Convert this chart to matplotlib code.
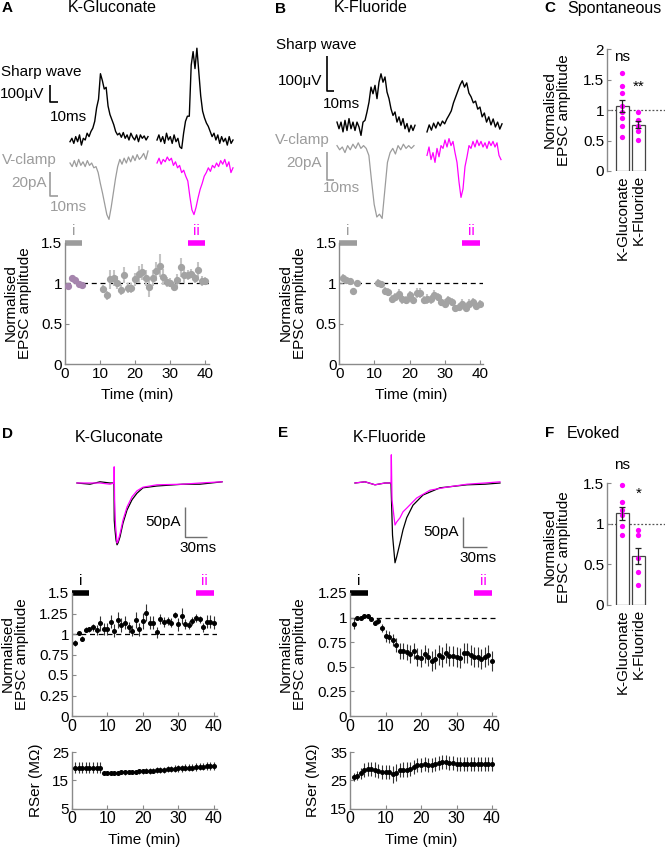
import numpy as np
import matplotlib
matplotlib.use('Agg')
import matplotlib.pyplot as plt
from matplotlib.ticker import FuncFormatter

plt.rcParams['font.family'] = ['Liberation Sans', 'DejaVu Sans']
plt.rcParams['font.size'] = 11

# ======================= DATA =======================
# --- Spontaneous EPSC time course (panels A, B) ---
t_base = [1, 2, 3, 4, 5]
t_post = list(range(11, 41))
A_base = [0.97, 1.06, 1.04, 0.99, 0.975]
A_base_err = [0.03, 0.02, 0.02, 0.02, 0.02]
A_post = [0.93, 0.85, 1.05, 1.07, 1.01, 0.92, 1.10, 0.94, 0.94, 1.05,
          1.11, 1.14, 1.07, 0.95, 1.07, 1.15, 1.22, 1.08, 1.02, 1.01,
          0.96, 1.04, 1.20, 1.10, 1.10, 1.12, 1.06, 1.17, 1.03, 1.03]
A_post_err = [0.05, 0.06, 0.12, 0.10, 0.08, 0.06, 0.10, 0.06, 0.06, 0.08,
              0.10, 0.10, 0.10, 0.12, 0.10, 0.12, 0.14, 0.10, 0.06, 0.06,
              0.06, 0.08, 0.12, 0.10, 0.06, 0.06, 0.06, 0.10, 0.06, 0.05]
B_base = [1.07, 1.04, 1.03, 0.90, 1.00]
B_base_err = [0.04, 0.02, 0.02, 0.02, 0.02]
B_post = [1.00, 0.99, 0.90, 0.89, 0.81, 0.83, 0.87, 0.80, 0.79, 0.85,
          0.79, 0.88, 0.88, 0.79, 0.81, 0.80, 0.86, 0.83, 0.77, 0.75,
          0.79, 0.77, 0.69, 0.71, 0.75, 0.69, 0.75, 0.77, 0.72, 0.74]
B_post_err = [0.05, 0.04, 0.05, 0.05, 0.05, 0.05, 0.06, 0.05, 0.05, 0.06,
              0.05, 0.06, 0.06, 0.05, 0.06, 0.05, 0.06, 0.05, 0.05, 0.06,
              0.05, 0.05, 0.04, 0.05, 0.05, 0.05, 0.05, 0.05, 0.05, 0.05]
epoch_i = [0, 5]
epoch_ii = [35, 40]

# --- Evoked EPSC time course (panels D, E) ---
t_evk = list(range(1, 41))
D_amp = [0.89, 1.01, 0.94, 1.05, 1.06, 1.08, 1.05, 1.13, 1.06, 1.06,
         1.15, 1.04, 1.17, 1.11, 1.14, 1.08, 1.04, 1.17, 1.06, 1.16,
         1.26, 1.14, 1.14, 1.02, 1.18, 1.15, 1.16, 1.14, 1.23, 1.12,
         1.22, 1.12, 1.11, 1.16, 1.20, 1.18, 1.08, 1.15, 1.15, 1.14]
D_amp_err = [0.04, 0.02, 0.03, 0.03, 0.03, 0.04, 0.06, 0.09, 0.07, 0.07,
             0.08, 0.08, 0.10, 0.08, 0.08, 0.07, 0.07, 0.10, 0.08, 0.10,
             0.10, 0.08, 0.08, 0.07, 0.06, 0.06, 0.05, 0.05, 0.04, 0.08,
             0.10, 0.06, 0.05, 0.05, 0.05, 0.04, 0.06, 0.08, 0.08, 0.08]
D_rser = [19.5, 19.5, 19.4, 19.5, 19.5, 19.4, 19.5, 19.5,
          17.6, 17.6, 17.6, 17.7, 17.7, 17.8, 17.8, 17.9, 18.0, 18.0,
          18.1, 18.2, 18.3, 18.3, 18.4, 18.6, 18.6, 18.7, 18.9, 18.9,
          19.1, 19.2, 19.2, 19.4, 19.5, 19.5, 19.7, 19.8, 19.8, 20.0,
          20.1, 20.1]
D_rser_err = [2.0, 2.0, 2.0, 2.0, 2.0, 2.0, 2.0, 2.0,
              0.6, 0.6, 0.6, 0.7, 0.7, 0.7, 0.8, 0.8, 0.8, 0.8,
              0.9, 0.9, 0.9, 1.0, 1.0, 1.0, 1.0, 1.1, 1.1, 1.1,
              1.2, 1.2, 1.2, 1.2, 1.3, 1.3, 1.3, 1.3, 1.3, 1.4,
              1.4, 1.4]
E_amp = [0.94, 1.00, 1.00, 1.02, 1.02, 0.99, 0.95, 0.97, 0.89, 0.81,
         0.80, 0.77, 0.72, 0.66, 0.66, 0.65, 0.63, 0.66, 0.60, 0.59,
         0.63, 0.60, 0.56, 0.58, 0.62, 0.60, 0.64, 0.61, 0.61, 0.60,
         0.59, 0.64, 0.64, 0.62, 0.60, 0.60, 0.58, 0.60, 0.62, 0.56]
E_amp_err = [0.06, 0.02, 0.02, 0.02, 0.02, 0.02, 0.03, 0.03, 0.04, 0.06,
             0.06, 0.06, 0.07, 0.08, 0.08, 0.08, 0.09, 0.08, 0.09, 0.09,
             0.09, 0.09, 0.10, 0.10, 0.10, 0.10, 0.10, 0.10, 0.10, 0.10,
             0.10, 0.10, 0.10, 0.10, 0.10, 0.10, 0.10, 0.10, 0.10, 0.10]
E_rser = [26.2, 26.6, 27.4, 28.5, 29.0, 29.0, 28.8, 28.3, 28.0, 28.0,
          28.0, 27.2, 27.6, 28.5, 28.8, 28.8, 29.0, 29.7, 30.3, 30.3,
          30.6, 30.3, 30.3, 30.6, 31.1, 31.5, 31.5, 31.1, 31.1, 30.9,
          30.9, 30.8, 30.9, 30.8, 30.8, 30.9, 30.8, 30.8, 30.9, 30.8]
E_rser_err = [1.5, 1.5, 2.0, 2.5, 2.5, 2.5, 2.5, 2.5, 2.5, 2.5,
              2.5, 3.0, 3.0, 2.5, 2.5, 2.5, 2.5, 2.5, 2.5, 2.5,
              2.5, 2.5, 2.5, 2.5, 2.5, 2.5, 2.5, 2.5, 2.5, 2.5,
              2.5, 2.5, 2.5, 2.5, 2.5, 2.5, 2.5, 2.5, 2.5, 2.5]

# --- Summary bars (panels C, F) ---
groups = ['K-Gluconate', 'K-Fluoride']
C_mean = [1.07, 0.76]
C_sem = [0.10, 0.06]
C_pts = [[1.60, 1.40, 1.28, 1.07, 0.96, 0.87, 0.74, 0.56],
         [0.96, 0.83, 0.74, 0.65, 0.51]]
C_sig = ['ns', '**']
F_mean = [1.13, 0.60]
F_sem = [0.08, 0.10]
F_pts = [[1.48, 1.27, 1.17, 1.11, 0.97, 0.86],
         [0.92, 0.86, 0.58, 0.41, 0.25]]
F_sig = ['ns', '*']

# --- Example traces ---
# Sharp wave field potentials (uV), uniformly sampled
A_sw_i = [-10, 10, -20, 20, -10, 30, -30, 10, 0, 40, 20, 50, 70, 110, 190, 240,
          390, 350, 300, 310, 200, 150, 120, 90, 50, 30, 40, 16, 44, 10, 30, 0,
          40, 16, 0, 30, -10, 30, 10, 24, 0, 20]
A_sw_ii = [0, 30, -10, 20, -20, 40, 0, 20, -20, 30, -10, 10, -40, -50, 40, 110,
           140, 140, 440, 520, 420, 540, 400, 260, 170, 130, 100, 80, 50, 20, 40,
           0, 30, -20, 20, -10, 10, -30, 20, -20, 0]
# V-clamp currents (pA)
A_vc_i = [0, -3, 2, -3, 3, -2, 1, -3, 2, -2, 0, -4, -3, -8, -17, -25, -34, -43,
          -47, -37, -25, -13, -3, 3, -1, 4, 0, 5, 1, 6, 2, 7, 3, 5, 8, 3, 10]
A_vc_ii = [0, 4, -1, 3, 1, 5, 2, 4, -2, 1, -4, -2, -8, -6, -11, -15, -28, -39,
           -43, -37, -29, -22, -17, -11, -8, -4, -7, -2, -4, 0, -3, 2, -1, 3,
           -3, 1, -8, -4]
B_sw_i = [14, -5, 14, -14, 19, -10, 24, -5, 14, -10, 14, 0, -24, 14, 19, 43, 71,
          114, 95, 119, 81, 128, 152, 128, 143, 100, 81, 52, 33, 43, 14, 29, 5,
          24, -5, 10, -14, 5, -10, 5]
B_sw_ii = [-14, 6, -9, 11, -3, 14, 3, 17, 9, 23, 34, 46, 69, 86, 103, 120, 132,
           114, 126, 97, 86, 69, 74, 51, 57, 29, 40, 14, 29, 6, 23, 0, 14, -6, 9]
B_vc_i = [1, -2, 0, -4, 1, -2, 2, -1, 3, -1, 1, -1, -6, -24, -41, -50, -48, -51,
          -31, -11, -4, -1, -5, 1, -2, 2, -1, 1, -1, 1]
B_vc_ii = [-6, 0, -9, -4, -11, -1, -7, 1, -1, 5, 0, 6, 1, 4, -4, -11, -25, -36,
           -30, -14, -7, 1, -1, 4, 0, 5, 1, 4, 0, 3, -1, 4, 1, 4, 0, 3, -6, -9]
# Evoked EPSCs (time ms, current pA)
D_t_i = [0, 17.7, 31.4, 45, 50.4, 50.8, 51.8, 53.2, 54.6, 55.9, 58.6, 62.7, 68.2,
         75, 81.8, 90, 109, 144.6, 167.8, 197.8]
D_I_i = [0, -2, 2, 0, 0, -62, -78, -95, -103, -100, -90, -67, -45, -28, -17, -8,
         -5, -2, -2, 2]
D_t_ii = [0, 17.7, 31.4, 45, 50.4, 50.7, 51.3, 52.5, 54.6, 55.9, 58.6, 62.7, 68.2,
          75, 81.8, 90, 109, 144.6, 167.8, 197.8]
D_I_ii = [0, 0, 0, -2, 0, 27, -28, -70, -100, -97, -85, -62, -40, -23, -13, -7,
          -3, -2, 0, 2]
E_t_i = [0, 12.5, 25, 37.5, 45, 45.4, 46.9, 50, 52.1, 56.25, 60, 64.6, 72.5, 85,
         106.25, 140, 162.5, 181.25]
E_I_i = [0, 2, -3, 0, 0, -20, -87, -133, -123, -100, -78, -58, -37, -20, -8, -3,
         -2, 0]
E_t_ii = [0, 12.5, 25, 37.5, 45, 45.4, 46.25, 50, 52.1, 56.25, 60, 64.6, 77.1,
          93.75, 114.6, 140, 162.5, 181.25]
E_I_ii = [0, 2, -3, 0, 0, 47, -28, -70, -65, -58, -48, -42, -25, -12, -7, -2, 0, 2]

# ======================= STYLE / LAYOUT =======================
W, H = 665, 851
fig = plt.figure(figsize=(W / 100, H / 100), dpi=100)
MAG = '#ff00ff'
GRAY = '#9c9c9c'
SPINE = '#8a8a8a'
FS = 11
fmt = FuncFormatter(lambda v, p: f'{v:g}')


def box(x0, y0, x1, y1):
    return fig.add_axes([x0 / W, 1 - y1 / H, (x1 - x0) / W, (y1 - y0) / H])


def ftext(x, y, s, **kw):
    kw.setdefault('fontsize', FS)
    kw.setdefault('va', 'center')
    fig.text(x / W, 1 - y / H, s, **kw)


def trace_axes(x0, y0, x1, y1, xo, yo, sx, sy):
    ax = box(x0, y0, x1, y1)
    ax.set_xlim((x0 - xo) * sx, (x1 - xo) * sx)
    ax.set_ylim((yo - y1) * sy, (yo - y0) * sy)
    ax.axis('off')
    return ax


def scalebar(ax, x, y, lx, ly, color, lw=1.2):
    ax.plot([x, x, x + lx], [y + ly, y, y], color=color, lw=lw,
            solid_capstyle='butt', clip_on=False)


def style(ax, xfs=FS, yfs=FS):
    for s in ['top', 'right']:
        ax.spines[s].set_visible(False)
    for s in ['left', 'bottom']:
        ax.spines[s].set_color(SPINE)
        ax.spines[s].set_linewidth(1)
    ax.tick_params(direction='in', length=3, width=0.8, color=SPINE, pad=2)
    ax.tick_params(axis='x', labelsize=xfs)
    ax.tick_params(axis='y', labelsize=yfs)
    ax.yaxis.set_major_formatter(fmt)
    ax.patch.set_alpha(0)


def epochs(ax, ytop, c_i):
    for ep, lab, col in [(epoch_i, 'i', c_i), (epoch_ii, 'ii', MAG)]:
        ax.plot(ep, [ytop, ytop], color=col, lw=4, solid_capstyle='butt',
                clip_on=False)
        ax.annotate(lab, xy=(np.mean(ep), ytop), xytext=(0, 3.5),
                    textcoords='offset points', ha='center', va='bottom',
                    color=col, fontsize=FS)


def uni(vals, dt, t0=0.0):
    return t0 + dt * np.arange(len(vals))

# ----------------- Panel A -----------------
ftext(2, 8, 'A', fontweight='bold')
ftext(112, 8, 'K-Gluconate', ha='center', fontsize=11.5)
sxA = 1.3
ax = trace_axes(0, 30, 240, 150, 70, 140, sxA, 100 / 17)
ax.plot(uni(A_sw_i, 78 * sxA / (len(A_sw_i) - 1)), A_sw_i, color='k', lw=1)
ax.plot(uni(A_sw_ii, 76 * sxA / (len(A_sw_ii) - 1), 87 * sxA), A_sw_ii, color='k', lw=1)
scalebar(ax, -20 * sxA, 38 * 100 / 17, 10, 100, 'k')
ftext(1, 72, 'Sharp wave', ha='left', fontsize=11)
ftext(44, 94, '100μV', ha='right', fontsize=11)
ftext(50, 117, '10ms', ha='left', fontsize=11)
syA = 20 / 24
ax = trace_axes(0, 150, 240, 235, 70, 163, sxA, syA)
ax.plot(uni(A_vc_i, 78 * sxA / (len(A_vc_i) - 1)), A_vc_i, color=GRAY, lw=0.9)
ax.plot(uni(A_vc_ii, 76 * sxA / (len(A_vc_ii) - 1), 87 * sxA), A_vc_ii, color=MAG, lw=0.9)
scalebar(ax, -20 * sxA, (163 - 196) * syA, 10, 20, GRAY)
ftext(2, 160, 'V-clamp', ha='left', color=GRAY)
ftext(47, 183, '20pA', ha='right', color=GRAY)
ftext(50, 207, '10ms', ha='left', color=GRAY)

axA = box(64.8, 243, 64.8 + 41 * 3.51, 364)
axA.set_xlim(0, 41)
axA.set_ylim(0, 1.5)
style(axA)
axA.set_xticks([0, 10, 20, 30, 40])
axA.set_yticks([0, 0.5, 1, 1.5])
axA.axhline(1, color='k', lw=0.9, ls=(0, (4, 3)), zorder=1)
axA.errorbar(t_post, A_post, yerr=A_post_err, fmt='o', color='#a3a3a3',
             ecolor='#c4c4c4', elinewidth=1.5, ms=4.2, capsize=0, zorder=3)
axA.errorbar(t_base, A_base, yerr=A_base_err, fmt='o', color='#a585ad',
             ecolor='#c4c4c4', elinewidth=1.5, ms=4.2, capsize=0, zorder=3)
epochs(axA, 1.5, GRAY)
ftext(18, 303, 'Normalised\nEPSC amplitude', rotation=90, ha='center',
      multialignment='center', linespacing=1.05)
ftext(137, 395, 'Time (min)', ha='center')

# ----------------- Panel B -----------------
ftext(280, 9, 'B', fontweight='bold', ha='center')
ftext(371, 8, 'K-Fluoride', ha='center', fontsize=11.5)
sxB = 1.4
syB = 100 / 35
ax = trace_axes(250, 30, 520, 140, 337, 127, sxB, syB)
ax.plot(uni(B_sw_i, 78 * sxB / (len(B_sw_i) - 1)), B_sw_i, color='k', lw=1)
ax.plot(uni(B_sw_ii, 75 * sxB / (len(B_sw_ii) - 1), 90 * sxB), B_sw_ii, color='k', lw=1)
scalebar(ax, -10 * sxB, (127 - 91) * syB, 10, 100, 'k')
ftext(276, 45, 'Sharp wave', ha='left')
ftext(322, 81, '100μV', ha='right')
ftext(323, 104, '10ms', ha='left')
syBv = 20 / 28
ax = trace_axes(250, 135, 520, 235, 337, 147, sxB, syBv)
ax.plot(uni(B_vc_i, 77 * sxB / (len(B_vc_i) - 1)), B_vc_i, color=GRAY, lw=0.9)
ax.plot(uni(B_vc_ii, 74 * sxB / (len(B_vc_ii) - 1), 90 * sxB), B_vc_ii, color=MAG, lw=0.9)
scalebar(ax, -10 * sxB, (147 - 180) * syBv, 10, 20, GRAY)
ftext(275, 140, 'V-clamp', ha='left', color=GRAY)
ftext(322, 163, '20pA', ha='right', color=GRAY)
ftext(323, 188, '10ms', ha='left', color=GRAY)

axB = box(339.3, 243, 339.3 + 41 * 3.51, 364)
axB.set_xlim(0, 41)
axB.set_ylim(0, 1.5)
style(axB)
axB.set_xticks([0, 10, 20, 30, 40])
axB.set_yticks([0, 0.5, 1, 1.5])
axB.axhline(1, color='k', lw=0.9, ls=(0, (4, 3)), zorder=1)
axB.errorbar(t_base + t_post, B_base + B_post, yerr=B_base_err + B_post_err,
             fmt='o', color='#a3a3a3', ecolor='#c4c4c4', elinewidth=1.5, ms=4.2,
             capsize=0, zorder=3)
epochs(axB, 1.5, GRAY)
ftext(293, 303, 'Normalised\nEPSC amplitude', rotation=90, ha='center',
      multialignment='center', linespacing=1.05)
ftext(411, 395, 'Time (min)', ha='center')


# ----------------- Bar panels C, F -----------------
def bar_panel(y0, y1, ymax, yticks, mean, sem, pts, sig, sig_y):
    ax = box(607, y0, 665, y1)
    ax.set_ylim(0, ymax)
    ax.set_xlim(0.03, 3.66)
    style(ax)
    ax.spines['bottom'].set_visible(False)
    ax.set_yticks(yticks)
    x = [1, 2]
    ax.axhline(1, color='#555555', lw=0.9, ls=(0, (1.5, 1.5)), zorder=0)
    ax.bar(x, mean, width=0.8, color='white', edgecolor='#444444', lw=0.9, zorder=1)
    for xi, p in zip(x, pts):
        ax.plot([xi] * len(p), p, 'o', color=MAG, ms=3.8, mec='none', zorder=2,
                clip_on=False)
    ax.errorbar(x, mean, yerr=sem, fmt='none', ecolor='#222222', elinewidth=0.9,
                capsize=2.5, capthick=0.9, zorder=3)
    for xi, s, sy in zip(x, sig, sig_y):
        ax.text(xi, sy, s, ha='center', va='center', fontsize=FS, clip_on=False)
    ax.set_xticks(x)
    ax.set_xticklabels(groups, rotation=90, fontsize=FS)
    ax.tick_params(axis='x', length=0, pad=3)
    return ax


ftext(550, 8, 'C', fontweight='bold', ha='center')
ftext(567, 8, 'Spontaneous', ha='left', fontsize=11.5)
bar_panel(49, 171, 2, [0, 0.5, 1, 1.5, 2], C_mean, C_sem, C_pts, C_sig, [1.87, 1.38])
ftext(557, 110, 'Normalised\nEPSC amplitude', rotation=90, ha='center',
      multialignment='center', linespacing=1.05)

ftext(550, 433, 'F', fontweight='bold', ha='center')
ftext(567, 433, 'Evoked', ha='left', fontsize=11.5)
bar_panel(483, 605, 1.5, [0, 0.5, 1, 1.5], F_mean, F_sem, F_pts, F_sig, [1.72, 1.37])
ftext(557, 547, 'Normalised\nEPSC amplitude', rotation=90, ha='center',
      multialignment='center', linespacing=1.05)

# ----------------- Panels D, E -----------------
ftext(2, 434, 'D', fontweight='bold')
ftext(119, 437, 'K-Gluconate', ha='center', fontsize=11.5)
sxD, syD = 30 / 22, 50 / 30
ax = trace_axes(60, 450, 240, 565, 77, 483, sxD, syD)
ax.plot(D_t_i, D_I_i, color='k', lw=0.9)
ax.plot(D_t_ii, D_I_ii, color=MAG, lw=0.9)
scalebar(ax, (185 - 77) * sxD, (483 - 537) * syD, 30, 50, '#707070', lw=1)
ftext(181, 522, '50pA', ha='right')
ftext(198, 548, '30ms', ha='center')

ftext(283, 433, 'E', fontweight='bold', ha='center')
ftext(390, 437, 'K-Fluoride', ha='center', fontsize=11.5)
sxE, syE = 30 / 24, 50 / 30
ax = trace_axes(340, 445, 520, 575, 355, 483, sxE, syE)
ax.plot(E_t_i, E_I_i, color='k', lw=0.9)
ax.plot(E_t_ii, E_I_ii, color=MAG, lw=0.9)
scalebar(ax, (463 - 355) * sxE, (483 - 547) * syE, 30, 50, '#707070', lw=1)
ftext(459, 532, '50pA', ha='right')
ftext(478, 558, '30ms', ha='center')


def evoked_panels(x0, ymax, yticks, amp, amp_err, rser, rser_err, rlim, rticks,
                  lab_x, rlab_x, time_x):
    x1 = x0 + 41 * 3.55
    ax = box(x0, 593, x1, 716)
    ax.set_xlim(0, 41)
    ax.set_ylim(0, ymax)
    style(ax, xfs=11.5)
    ax.set_xticks([0, 10, 20, 30, 40])
    ax.set_yticks(yticks)
    ax.axhline(1, color='k', lw=0.9, ls=(0, (4, 3)), zorder=1)
    ax.errorbar(t_evk, amp, yerr=amp_err, fmt='o', color='k', ecolor='#333333',
                elinewidth=0.8, ms=2.6, capsize=0, zorder=3)
    epochs(ax, ymax, 'k')
    ftext(lab_x, 654, 'Normalised\nEPSC amplitude', rotation=90, ha='center',
          multialignment='center', linespacing=1.05)
    ax2 = box(x0, 752, x1, 808.5)
    ax2.set_xlim(0, 41)
    ax2.set_ylim(*rlim)
    style(ax2, xfs=11.5)
    ax2.set_xticks([0, 10, 20, 30, 40])
    ax2.set_yticks(rticks)
    ax2.errorbar(t_evk, rser, yerr=rser_err, fmt='o', color='k', ecolor='#333333',
                 elinewidth=0.8, ms=2.6, capsize=0, zorder=3)
    ftext(rlab_x, 780, 'RSer (MΩ)', rotation=90, ha='center')
    ftext(time_x, 840, 'Time (min)', ha='center')


evoked_panels(71.7, 1.5, [0, 0.25, 0.5, 0.75, 1, 1.25, 1.5], D_amp, D_amp_err,
              D_rser, D_rser_err, (5, 25), [5, 15, 25], 15, 36, 144)
evoked_panels(350, 1.25, [0, 0.25, 0.5, 0.75, 1, 1.25], E_amp, E_amp_err,
              E_rser, E_rser_err, (15, 35), [15, 25, 35], 293, 313, 421)

fig.savefig('out.png', dpi=100)
